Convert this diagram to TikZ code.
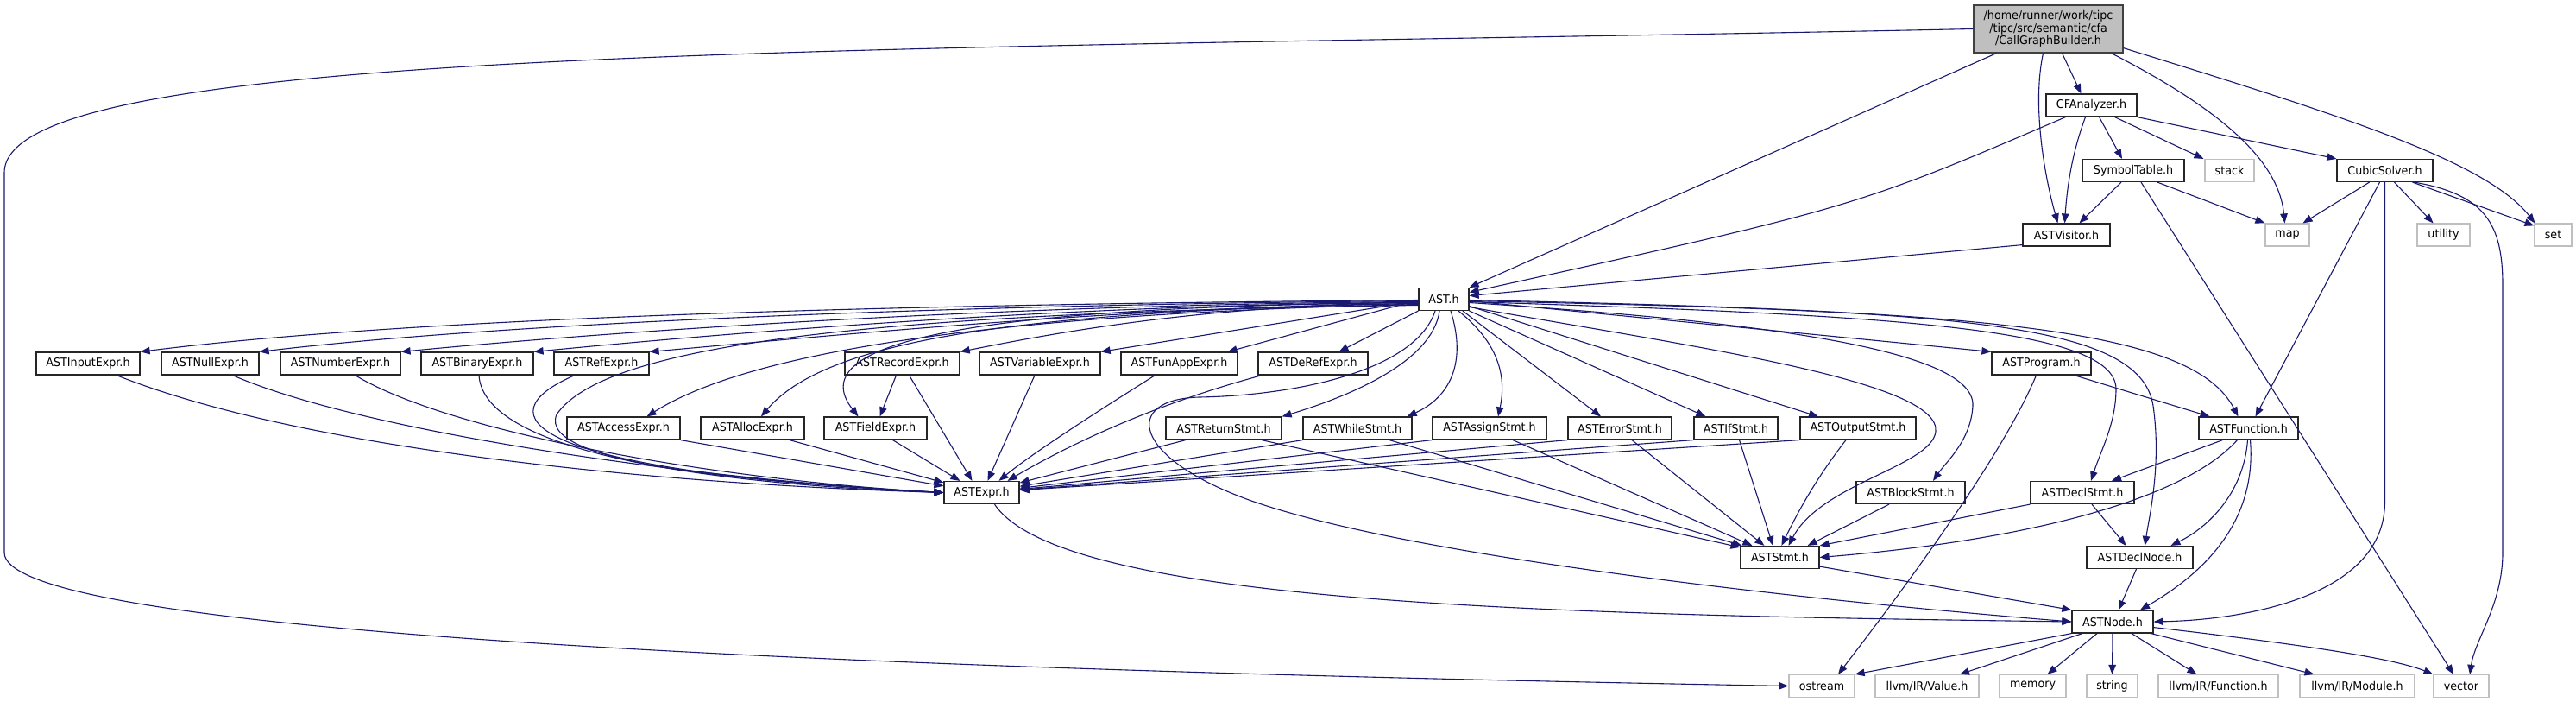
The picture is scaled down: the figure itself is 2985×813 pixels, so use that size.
\documentclass[tikz,border=0pt]{standalone}
\usepackage{fontspec}
\setmainfont{DejaVu Sans}[FakeStretch=0.94]
\usetikzlibrary{arrows.meta}
\definecolor{edgeblue}{RGB}{25,25,112}
\newcommand\dxlabelfont{\fontsize{13.5pt}{14.5pt}\selectfont}
\tikzset{
  box/.style={draw=black!85, line width=1.2pt, fill=white, minimum height=26pt, inner sep=0pt, font=\dxlabelfont},
  sysbox/.style={box, draw=black!25},
  rootbox/.style={box, fill=black!25, draw=black!75, minimum height=55pt, align=center},
  dep/.style={draw=edgeblue, line width=1.1pt, -{Triangle[length=11pt,width=8.5pt]}}
}
\begin{document}
\begin{tikzpicture}[x=1pt,y=-1pt]
\useasboundingbox[fill=white] (0,0) rectangle (2985,813);
% ---------- nodes
\node[rootbox, minimum width=173pt] (root) at (2373.5,33.5) {/home/runner/work/tipc\\/tipc/src/semantic/cfa\\/CallGraphBuilder.h};
\node[box, minimum width=105pt] (cfa) at (2423.5,122) {CFAnalyzer.h};
\node[box, minimum width=118pt] (sym) at (2472,197.5) {SymbolTable.h};
\node[sysbox, minimum width=57pt] (stack) at (2583.5,197.5) {stack};
\node[box, minimum width=111pt] (cubic) at (2763.5,197.5) {CubicSolver.h};
\node[box, minimum width=101pt] (vis) at (2394.5,272) {ASTVisitor.h};
\node[sysbox, minimum width=51pt] (map) at (2650.5,272) {map};
\node[sysbox, minimum width=61pt] (utility) at (2831.5,272) {utility};
\node[sysbox, minimum width=43pt] (set) at (2958.5,272) {set};
\node[box, minimum width=58pt] (ast) at (1673,346.5) {AST.h};
% row 421
\node[box, minimum width=120pt] (input) at (102,421) {ASTInputExpr.h};
\node[box, minimum width=113pt] (null) at (243.5,421) {ASTNullExpr.h};
\node[box, minimum width=139pt] (number) at (394.5,421) {ASTNumberExpr.h};
\node[box, minimum width=130pt] (binary) at (553,421) {ASTBinaryExpr.h};
\node[box, minimum width=110pt] (ref) at (697,421) {ASTRefExpr.h};
\node[box, minimum width=133pt] (record) at (1045.5,421) {ASTRecordExpr.h};
\node[box, minimum width=140pt] (variable) at (1205,421) {ASTVariableExpr.h};
\node[box, minimum width=135pt] (funapp) at (1366.5,421) {ASTFunAppExpr.h};
\node[box, minimum width=127pt] (deref) at (1521.5,421) {ASTDeRefExpr.h};
\node[box, minimum width=115pt] (program) at (2365.5,421) {ASTProgram.h};
% row 496
\node[box, minimum width=131pt] (access) at (722.5,496) {ASTAccessExpr.h};
\node[box, minimum width=120pt] (alloc) at (872,496) {ASTAllocExpr.h};
\node[box, minimum width=119pt] (field) at (1014.5,496) {ASTFieldExpr.h};
\node[box, minimum width=134pt] (return) at (1418,496) {ASTReturnStmt.h};
\node[box, minimum width=126pt] (while) at (1573,496) {ASTWhileStmt.h};
\node[box, minimum width=132pt] (assign) at (1726,496) {ASTAssignStmt.h};
\node[box, minimum width=120pt] (error) at (1877,496) {ASTErrorStmt.h};
\node[box, minimum width=97pt] (ifs) at (2011.5,496) {ASTIfStmt.h};
\node[box, minimum width=134pt] (output) at (2153,496) {ASTOutputStmt.h};
\node[box, minimum width=115pt] (function) at (2605.5,496) {ASTFunction.h};
% row 570
\node[box, minimum width=87pt] (expr) at (1137.5,570.5) {ASTExpr.h};
\node[box, minimum width=126pt] (block) at (2214,570.5) {ASTBlockStmt.h};
\node[box, minimum width=120pt] (declstmt) at (2413,570.5) {ASTDeclStmt.h};
% row 645
\node[box, minimum width=91pt] (stmt) at (2062.5,645.5) {ASTStmt.h};
\node[box, minimum width=123pt] (declnode) at (2479.5,645.5) {ASTDeclNode.h};
% row 720
\node[box, minimum width=94pt] (node) at (2448,720) {ASTNode.h};
% row 794
\node[sysbox, minimum width=76pt] (ostream) at (2111,794.5) {ostream};
\node[sysbox, minimum width=120pt] (value) at (2233,794.5) {llvm/IR/Value.h};
\node[sysbox, minimum width=77pt] (memory) at (2355.5,794.5) {memory};
\node[sysbox, minimum width=59pt] (string) at (2447.5,794.5) {string};
\node[sysbox, minimum width=139pt] (fun) at (2570.5,794.5) {llvm/IR/Function.h};
\node[sysbox, minimum width=133pt] (module) at (2731.5,794.5) {llvm/IR/Module.h};
\node[sysbox, minimum width=64pt] (vector) at (2852,794.5) {vector};
% ---------- edges: root
\draw[dep] ([xshift=-60pt]root.south) -- (ast.north east);
\draw[dep] ([xshift=16pt]root.south) -- ([xshift=-12pt]cfa.north);
\draw[dep] ([xshift=-6pt]root.south) .. controls (2355,120) and (2368,200) .. ([xshift=-10pt]vis.north);
\draw[dep] ([xshift=73pt]root.south) .. controls (2560,120) and (2640,180) .. ([xshift=-3pt]map.north);
\draw[dep] ([yshift=6pt]root.south east) .. controls (2700,130) and (2880,185) .. ([xshift=1pt]set.north west);
\draw[dep] (root.west) .. controls (1000,60) and (5,50) .. (5,200) -- (5,640) .. controls (5,720) and (700,770) .. (ostream.west);
% cfa
\draw[dep] ([xshift=-30pt]cfa.south) .. controls (2150,240) .. ([yshift=8pt]ast.east);
\draw[dep] ([xshift=-7pt]cfa.south) .. controls (2400,180) and (2395,220) .. ([xshift=-2pt]vis.north);
\draw[dep] ([xshift=9pt]cfa.south) -- ([xshift=-13pt]sym.north);
\draw[dep] ([xshift=27pt]cfa.south) -- ([xshift=-30pt]stack.north);
\draw[dep] (cfa.south east) -- (cubic.north west);
% sym
\draw[dep] ([xshift=-14pt]sym.south) -- ([xshift=15pt]vis.north);
\draw[dep] ([xshift=28pt]sym.south) -- (map.north west);
\draw[dep] ([xshift=9pt]sym.south) -- ([xshift=-9pt]vector.north);
% cubic
\draw[dep] ([xshift=-18pt]cubic.south) -- ([xshift=18pt]map.north);
\draw[dep] ([xshift=-6pt]cubic.south) -- ([xshift=8pt]function.north);
\draw[dep] (cubic.south) -- ++(0,370) .. controls +(0,110) and (2600,718) .. (node.east);
\draw[dep] ([xshift=11pt]cubic.south) -- ([xshift=-12pt]utility.north);
\draw[dep] ([xshift=32pt]cubic.south) -- ([yshift=-3pt]set.north west);
\draw[dep] ([xshift=34pt]cubic.south) .. controls (2880,225) and (2900,260) .. (2900,330) -- (2900,640) .. controls (2900,700) and (2868,740) .. ([xshift=10pt]vector.north);
% vis
\draw[dep] ([yshift=2pt]vis.south west) -- ([yshift=4pt]ast.east);
% ast -> left row
\draw[dep] ([yshift=-1pt]ast.west) .. controls (1100,352) and (500,365) .. (input.north east);
\draw[dep] ([yshift=-2pt]ast.west) .. controls (1150,352) and (600,372) .. (null.north east);
\draw[dep] ([yshift=-3pt]ast.west) .. controls (1200,352) and (750,380) .. (number.north east);
\draw[dep] ([yshift=-4pt]ast.west) .. controls (1250,352) and (850,385) .. (binary.north east);
\draw[dep] ([yshift=-5pt]ast.west) .. controls (1300,355) and (950,390) .. (ref.north east);
\draw[dep] ([yshift=-6pt]ast.west) .. controls (1200,362) and (880,400) .. ([xshift=27pt]access.north);
\draw[dep] ([yshift=-7pt]ast.west) .. controls (1000,362) and (700,400) .. (645,480) .. controls (620,540) and (900,560) .. (expr.west);
\draw[dep] ([yshift=-5pt]ast.west) .. controls (1200,360) and (960,390) .. ([xshift=10pt]alloc.north);
\draw[dep] ([yshift=-4pt]ast.west) .. controls (1100,355) and (930,400) .. ([xshift=-20pt]field.north);
\draw[dep] ([yshift=-3pt]ast.west) .. controls (1400,355) and (1250,380) .. (record.north east);
\draw[dep] ([yshift=-2pt]ast.west) -- (variable.north east);
\draw[dep] ([yshift=-1pt]ast.west) -- ([xshift=-12pt]funapp.north east);
\draw[dep] (ast.south west) -- ([xshift=30pt]deref.north);
% ast -> statements
\draw[dep] ([xshift=-5pt]ast.south) .. controls (1660,420) and (1560,460) .. (return.north east);
\draw[dep] ([xshift=8pt]ast.south) .. controls (1700,420) and (1680,460) .. ([xshift=-6pt]while.north east);
\draw[dep] ([xshift=17pt]ast.south) .. controls (1740,400) and (1745,440) .. ([xshift=10pt]assign.north);
\draw[dep] ([xshift=22pt]ast.south) -- ([xshift=-22pt]error.north);
\draw[dep] (ast.south east) -- ([xshift=-35pt]ifs.north);
\draw[dep] ([yshift=-8pt]ast.east) -- ([xshift=-46pt]output.north);
\draw[dep] ([yshift=-4pt]ast.east) .. controls (2000,370) and (2290,400) .. (2286,470) .. controls (2284,510) and (2255,535) .. ([xshift=26pt]block.north);
\draw[dep] ([yshift=-9pt]ast.east) .. controls (1950,400) and (2250,440) .. (2243,500) .. controls (2238,540) and (2110,560) .. ([xshift=10pt]stmt.north);
\draw[dep] ([yshift=-2pt]ast.east) -- (program.north west);
\draw[dep] ([yshift=-1pt]ast.east) .. controls (2300,360) and (2540,380) .. ([xshift=-12pt]function.north);
\draw[dep] ([yshift=-3pt]ast.east) .. controls (2200,365) and (2450,380) .. (2452,450) .. controls (2452,490) and (2435,520) .. ([xshift=10pt]declstmt.north);
\draw[dep] ([yshift=-2pt]ast.east) .. controls (2250,360) and (2480,370) .. (2495,470) .. controls (2505,540) and (2490,600) .. ([xshift=6pt]declnode.north);
\draw[dep] ([xshift=-10pt]ast.south) .. controls (1640,430) and (1500,458) .. (1390,460) .. controls (1300,462) and (1310,530) .. (1450,580) .. controls (1650,650) and (2150,700) .. (node.west);
% expressions -> expr
\draw[dep] ([xshift=33pt]input.south) .. controls (350,520) and (750,560) .. (expr.west);
\draw[dep] ([xshift=26pt]null.south) .. controls (420,500) and (800,555) .. (expr.west);
\draw[dep] ([xshift=17pt]number.south) .. controls (520,500) and (820,555) .. (expr.west);
\draw[dep] ([xshift=2pt]binary.south) .. controls (560,520) and (800,560) .. (expr.west);
\draw[dep] ([xshift=-31pt]ref.south) .. controls (560,480) and (600,545) .. (expr.west);
\draw[dep] (access.south east) -- (expr);
\draw[dep] ([xshift=43pt]alloc.south) -- ([yshift=-2pt]expr.north west);
\draw[dep] ([xshift=20pt]field.south) -- ([xshift=-25pt]expr.north);
\draw[dep] ([xshift=-7pt]record.south) -- ([xshift=5pt]field.north);
\draw[dep] ([xshift=8pt]record.south) -- ([xshift=-11pt]expr.north);
\draw[dep] ([xshift=-6pt]variable.south) -- ([xshift=7pt]expr.north);
\draw[dep] ([xshift=-28pt]funapp.south) .. controls (1250,490) and (1190,530) .. ([xshift=20pt]expr.north);
\draw[dep] ([xshift=5pt]deref.south west) .. controls (1330,470) and (1230,520) .. ([xshift=30pt]expr.north);
% statements -> expr
\draw[dep] ([xshift=-44pt]return.south) -- (expr);
\draw[dep] (while.south west) -- (expr);
\draw[dep] (assign.south west) -- (expr);
\draw[dep] (error.south west) -- (expr);
\draw[dep] (ifs.south west) -- (expr);
\draw[dep] (output.south west) -- (expr);
% statements -> stmt
\draw[dep] ([xshift=44pt]return.south) -- ([yshift=-2pt]stmt.north west);
\draw[dep] ([xshift=37pt]while.south) -- ([xshift=2pt]stmt.north west);
\draw[dep] ([xshift=27pt]assign.south) -- ([xshift=14pt]stmt.north west);
\draw[dep] ([xshift=14pt]error.south) -- ([xshift=28pt]stmt.north west);
\draw[dep] ([xshift=4pt]ifs.south) -- ([xshift=38pt]stmt.north west);
\draw[dep] ([xshift=-14pt]output.south) .. controls (2100,560) and (2080,600) .. ([xshift=48pt]stmt.north west);
\draw[dep] ([xshift=-25pt]block.south) -- ([xshift=-14pt]stmt.north east);
\draw[dep] (declstmt.south west) -- (stmt.north east);
% program / function / decl
\draw[dep] ([xshift=38pt]program.south) -- ([xshift=-45pt]function.north);
\draw[dep] ([xshift=-6pt]program.south) .. controls (2320,530) and (2200,690) .. ([xshift=19pt]ostream.north);
\draw[dep] ([xshift=-30pt]function.south) -- ([xshift=34pt]declstmt.north);
\draw[dep] ([xshift=-13pt]function.south) .. controls (2520,590) and (2300,630) .. (stmt.east);
\draw[dep] ([xshift=-1pt]function.south) .. controls (2600,570) and (2560,610) .. ([xshift=36pt]declnode.north);
\draw[dep] ([xshift=2pt]function.south) .. controls (2615,600) and (2560,660) .. ([xshift=32pt]node.north);
\draw[dep] ([xshift=11pt]declstmt.south) -- ([xshift=-16pt]declnode.north);
\draw[dep] ([xshift=-4pt]declnode.south) -- ([xshift=7pt]node.north);
\draw[dep] ([yshift=3pt]stmt.south east) -- (node.north west);
\draw[dep] ([xshift=15pt]expr.south) .. controls (1230,700) and (1800,712) .. (node.west);
% node -> system headers
\draw[dep] (node.south west) -- (ostream.north east);
\draw[dep] ([xshift=-35pt]node.south) -- ([xshift=38pt]value.north);
\draw[dep] ([xshift=-18pt]node.south) -- ([xshift=17pt]memory.north);
\draw[dep] (node.south) -- (string.north);
\draw[dep] ([xshift=22pt]node.south) -- ([xshift=-25pt]fun.north);
\draw[dep] ([xshift=-3pt]node.south east) -- ([xshift=-50pt]module.north);
\draw[dep] ([yshift=7pt]node.south east) .. controls (2700,750) and (2780,765) .. (vector.north west);
\end{tikzpicture}
\end{document}
